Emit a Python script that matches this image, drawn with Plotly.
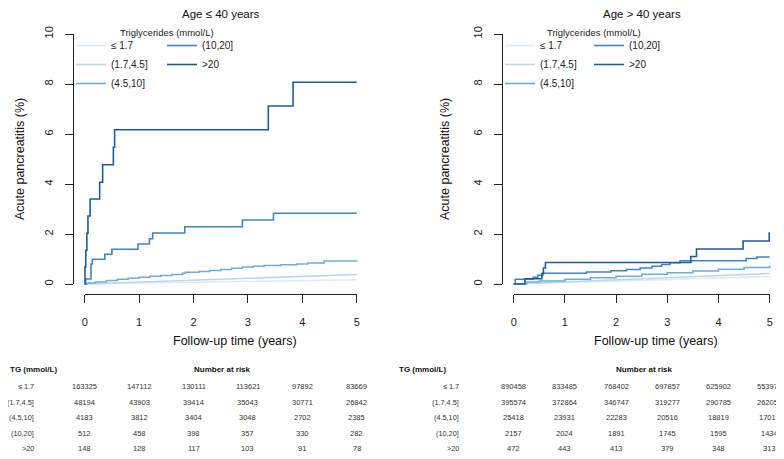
import plotly.graph_objects as go

# Page offset compensation (default HTML body margin of 8px)
OX, OY = 8, 8
W, H = 784 - OX, 459 - OY
FONT = "Liberation Sans, Arial, sans-serif"

def fx(px):
    return (px - OX) / W

def fy(py):
    return 1 - (py - OY) / H

groups = ["≤ 1.7", "(1.7,4.5]", "(4.5,10]", "(10,20]", ">20"]
colors = ["#DEEBF7", "#BCD6EC", "#6BAED6", "#3D85C6", "#1C5AA6"]
shapes_kind = ["linear", "linear", "hv", "hv", "hv"]

# ---- Age <= 40 years: cumulative incidence (%) ----
y40_t_le17 = [0, 1, 2, 3, 4, 5]
y40_v_le17 = [0, 0.035, 0.07, 0.10, 0.135, 0.17]
y40_t_17_45 = [0, 1, 2, 3, 4, 5]
y40_v_17_45 = [0, 0.08, 0.16, 0.24, 0.31, 0.38]
y40_t_45_10 = [0, 0.05, 0.2, 0.4, 0.6, 0.8, 1.0, 1.2, 1.4, 1.6, 1.8, 1.85, 2.1, 2.3,
               2.5, 2.7, 2.9, 3.1, 3.3, 3.6, 3.9, 4.1, 4.4, 5.0]
y40_v_45_10 = [0, 0.04, 0.08, 0.14, 0.19, 0.23, 0.27, 0.31, 0.34, 0.38, 0.43, 0.47, 0.50, 0.54,
               0.58, 0.63, 0.68, 0.71, 0.74, 0.77, 0.80, 0.84, 0.92, 0.93]
y40_t_10_20 = [0, 0.018, 0.116, 0.14, 0.37, 0.50, 0.98, 1.19, 1.25, 1.84, 2.90, 3.47, 5.0]
y40_v_10_20 = [0, 0.20, 0.80, 0.99, 1.19, 1.39, 1.60, 1.81, 2.04, 2.29, 2.56, 2.83, 2.83]
y40_t_gt20 = [0, 0.005, 0.02, 0.04, 0.06, 0.10, 0.275, 0.33, 0.527, 0.55, 3.375, 3.83, 5.0]
y40_v_gt20 = [0, 0.68, 1.35, 2.03, 2.72, 3.40, 4.07, 4.77, 5.47, 6.17, 7.12, 8.07, 8.07]

# ---- Age > 40 years ----
o40_t_le17 = [0, 1, 2, 3, 4, 5]
o40_v_le17 = [0, 0.06, 0.12, 0.18, 0.24, 0.30]
o40_t_17_45 = [0, 1, 2, 3, 4, 5]
o40_v_17_45 = [0, 0.09, 0.17, 0.25, 0.33, 0.42]
o40_t_45_10 = [0, 0.25, 0.5, 1, 1.5, 2, 2.5, 3, 3.5, 4, 4.5, 5]
o40_v_45_10 = [0, 0.08, 0.12, 0.19, 0.25, 0.31, 0.39, 0.45, 0.52, 0.59, 0.66, 0.74]
o40_t_10_20 = [0, 0.03, 0.38, 0.47, 0.57, 1.42, 1.9, 2.2, 2.47, 2.7, 2.89, 3.05, 3.25, 4.54, 4.75, 5.0]
o40_v_10_20 = [0, 0.19, 0.27, 0.35, 0.43, 0.48, 0.53, 0.58, 0.64, 0.71, 0.78, 0.85, 0.93, 1.02, 1.08, 1.08]
o40_t_gt20 = [0, 0.22, 0.55, 0.58, 0.62, 3.46, 3.57, 4.48, 4.99, 5.0]
o40_v_gt20 = [0, 0.21, 0.42, 0.64, 0.86, 1.10, 1.40, 1.72, 2.04, 2.04]

# ---- Number at risk ----
risk_times = [0, 1, 2, 3, 4, 5]
y40_risk_le17 = [163325, 147112, 130111, 113621, 97892, 83669]
y40_risk_17_45 = [48194, 43903, 39414, 35043, 30771, 26842]
y40_risk_45_10 = [4183, 3812, 3404, 3048, 2702, 2385]
y40_risk_10_20 = [512, 458, 398, 357, 330, 282]
y40_risk_gt20 = [148, 128, 117, 103, 91, 78]
o40_risk_le17 = [890458, 833485, 768402, 697857, 625902, 553973]
o40_risk_17_45 = [395574, 372864, 346747, 319277, 290785, 262050]
o40_risk_45_10 = [25418, 23931, 22283, 20516, 18819, 17017]
o40_risk_10_20 = [2157, 2024, 1891, 1745, 1595, 1434]
o40_risk_gt20 = [472, 443, 413, 379, 348, 313]

x_ticks = [0, 1, 2, 3, 4, 5]
y_ticks = [0, 2, 4, 6, 8, 10]

panels = [
    dict(title="Age ≤ 40 years",
         curves=[(y40_t_le17, y40_v_le17), (y40_t_17_45, y40_v_17_45), (y40_t_45_10, y40_v_45_10),
                 (y40_t_10_20, y40_v_10_20), (y40_t_gt20, y40_v_gt20)],
         risk=[y40_risk_le17, y40_risk_17_45, y40_risk_45_10, y40_risk_10_20, y40_risk_gt20],
         x0=84.7, x1=356.7, yaxis_px=73, ytitle_px=20, xtitle_px=234.6,
         leg_px=71, leg2_px=162, legtitle_px=167, tg_px=8, lab_px=36, nar_px=222),
    dict(title="Age > 40 years",
         curves=[(o40_t_le17, o40_v_le17), (o40_t_17_45, o40_v_17_45), (o40_t_45_10, o40_v_45_10),
                 (o40_t_10_20, o40_v_10_20), (o40_t_gt20, o40_v_gt20)],
         risk=[o40_risk_le17, o40_risk_17_45, o40_risk_45_10, o40_risk_10_20, o40_risk_gt20],
         x0=513.7, x1=769.7, yaxis_px=502, ytitle_px=445, xtitle_px=656,
         leg_px=500, leg2_px=589, legtitle_px=594, tg_px=397, lab_px=461, nar_px=644),
]

Y0_PX, Y10_PX = 284, 34
XAX_PX = 294
row_px = [386, 402, 417, 433, 448]

fig = go.Figure()
layout = dict(width=W, height=H, margin=dict(l=0, r=0, t=0, b=0, pad=0, autoexpand=False),
              paper_bgcolor="white", plot_bgcolor="rgba(0,0,0,0)",
              font=dict(family=FONT, color="#222", size=11),
              showlegend=True)
annotations = []

for pi, p in enumerate(panels):
    dn = 2 * pi + 1          # data axes index
    an = 2 * pi + 2          # visible axes index
    dsuf = "" if dn == 1 else str(dn)
    asuf = str(an)
    pxyr = (p["x1"] - p["x0"]) / 5.0
    pxu = (Y0_PX - Y10_PX) / 10.0
    # data axes (R-style 4% extension), invisible
    layout["xaxis" + dsuf] = dict(domain=[fx(p["x0"] - 0.2 * pxyr), fx(p["x1"] + 0.2 * pxyr)],
                                  range=[-0.2, 5.2], visible=False, anchor="y" + dsuf)
    layout["yaxis" + dsuf] = dict(domain=[fy(Y0_PX + 0.4 * pxu), fy(Y10_PX - 0.4 * pxu)],
                                  range=[-0.4, 10.4], visible=False, anchor="x" + dsuf)
    # visible axes
    layout["xaxis" + asuf] = dict(domain=[fx(p["x0"]), fx(p["x1"])], range=[0, 5],
                                  anchor="free", position=fy(XAX_PX),
                                  showline=True, linecolor="#222", linewidth=1.1,
                                  ticks="outside", ticklen=8, tickwidth=1.1, tickcolor="#222",
                                  tickvals=x_ticks, ticktext=[str(v) for v in x_ticks],
                                  tickfont=dict(size=11, color="#222"), ticklabelstandoff=10,
                                  showgrid=False, zeroline=False, fixedrange=True)
    layout["yaxis" + asuf] = dict(domain=[fy(Y0_PX), fy(Y10_PX)], range=[0, 10],
                                  anchor="free", position=fx(p["yaxis_px"]),
                                  showline=True, linecolor="#222", linewidth=1.1,
                                  ticks="outside", ticklen=8, tickwidth=1.1, tickcolor="#222",
                                  tickvals=y_ticks, ticktext=[str(v) for v in y_ticks],
                                  tickangle=-90, tickfont=dict(size=11, color="#222"),
                                  ticklabelstandoff=8,
                                  showgrid=False, zeroline=False, fixedrange=True)
    fig.add_trace(go.Scatter(x=[], y=[], xaxis="x" + asuf, yaxis="y" + asuf,
                             showlegend=False, hoverinfo="skip"))

    leg_a = "legend" if pi == 0 else "legend3"
    leg_b = "legend2" if pi == 0 else "legend4"
    for gi, (t, v) in enumerate(p["curves"]):
        fig.add_trace(go.Scatter(
            x=t, y=v, mode="lines", name=groups[gi],
            line=dict(color=colors[gi], width=1.6, shape=shapes_kind[gi]),
            xaxis="x" + dsuf, yaxis="y" + dsuf,
            legend=leg_a if gi < 3 else leg_b, showlegend=True))

    leg_common = dict(xanchor="left", yanchor="top", orientation="v",
                      bgcolor="rgba(0,0,0,0)", borderwidth=0,
                      font=dict(size=10, color="#222", family=FONT),
                      itemwidth=30, tracegroupgap=0, itemclick=False, itemdoubleclick=False)
    layout[leg_a] = dict(x=fx(p["leg_px"]), y=fy(31), **leg_common)
    layout[leg_b] = dict(x=fx(p["leg2_px"]), y=fy(31), **leg_common)

    # panel title
    annotations.append(dict(text=p["title"], x=fx((p["x0"] + p["x1"]) / 2), y=fy(13.5),
                            xref="paper", yref="paper", xanchor="center", yanchor="middle",
                            showarrow=False, font=dict(size=11.5, color="#111")))
    # legend title
    annotations.append(dict(text="Triglycerides (mmol/L)", x=fx(p["legtitle_px"]), y=fy(32),
                            xref="paper", yref="paper", xanchor="center", yanchor="middle",
                            showarrow=False, font=dict(size=9.5, color="#222")))
    # axis titles
    annotations.append(dict(text="Follow-up time (years)", x=fx(p["xtitle_px"]), y=fy(341),
                            xref="paper", yref="paper", xanchor="center", yanchor="middle",
                            showarrow=False, font=dict(size=12.5, color="#111")))
    annotations.append(dict(text="Acute pancreatitis (%)", x=fx(p["ytitle_px"]), y=fy(159),
                            xref="paper", yref="paper", xanchor="center", yanchor="middle",
                            textangle=-90, showarrow=False, font=dict(size=12.5, color="#111")))
    # risk table headers
    annotations.append(dict(text="<b>TG (mmol/L)</b>", x=fx(p["tg_px"]), y=fy(369),
                            xref="paper", yref="paper", xanchor="left", yanchor="middle",
                            showarrow=False, font=dict(size=8, color="#111")))
    annotations.append(dict(text="<b>Number at risk</b>", x=fx(p["nar_px"]), y=fy(369),
                            xref="paper", yref="paper", xanchor="center", yanchor="middle",
                            showarrow=False, font=dict(size=8, color="#111")))
    for gi, row in enumerate(p["risk"]):
        annotations.append(dict(text=groups[gi], x=fx(p["lab_px"]), y=fy(row_px[gi]),
                                xref="paper", yref="paper", xanchor="right", yanchor="middle",
                                showarrow=False, font=dict(size=7.3, color="#333")))
        for ti, n in enumerate(row):
            annotations.append(dict(text=str(n), x=risk_times[ti], y=fy(row_px[gi]),
                                    xref="x" + dsuf, yref="paper", xanchor="center",
                                    yanchor="middle", showarrow=False,
                                    font=dict(size=7.5, color="#333")))

layout["annotations"] = annotations
fig.update_layout(**layout)
fig.write_html("out.html")
